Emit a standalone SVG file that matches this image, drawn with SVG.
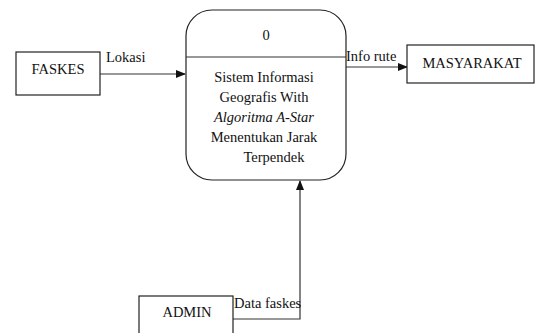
<svg xmlns="http://www.w3.org/2000/svg" width="540" height="333" viewBox="0 0 540 333">
<style>
text{font-family:"Liberation Serif","Times New Roman",serif;font-size:14.5px;fill:#111}
.box{fill:#fff;stroke:#222;stroke-width:1.2}
.ln{fill:none;stroke:#333;stroke-width:1.2}
</style>
<defs>
<marker id="ah" markerWidth="10" markerHeight="8" refX="9" refY="4" orient="auto" markerUnits="userSpaceOnUse">
<path d="M0,0 L10,4 L0,8 z" fill="#111"/>
</marker>
</defs>
<rect width="540" height="333" fill="#fff"/>
<g id="connectors">
<line class="ln" x1="100" y1="74" x2="185" y2="74" marker-end="url(#ah)"/>
<text x="106" y="62">Lokasi</text>
<line class="ln" x1="346" y1="67" x2="407" y2="67" marker-end="url(#ah)"/>
<text x="346" y="61">Info rute</text>
<polyline class="ln" points="233,319 300,319 300,181" marker-end="url(#ah)"/>
<text x="234" y="308">Data faskes</text>
</g>
<g id="faskes">
<rect class="box" x="16" y="52" width="84" height="43"/>
<text x="58" y="74" text-anchor="middle">FASKES</text>
</g>
<g id="process">
<rect class="box" x="186" y="10" width="160" height="170" rx="26" ry="26"/>
<line class="ln" x1="186" y1="57" x2="346" y2="57"/>
<text x="266" y="40" text-anchor="middle">0</text>
<text x="264" y="82" text-anchor="middle">Sistem Informasi</text>
<text x="264" y="102" text-anchor="middle">Geografis With</text>
<text x="264" y="122" text-anchor="middle" font-style="italic">Algoritma A-Star</text>
<text x="264" y="142" text-anchor="middle">Menentukan Jarak</text>
<text x="274" y="162" text-anchor="middle">Terpendek</text>
</g>
<g id="masyarakat">
<rect class="box" x="407" y="45" width="127" height="38"/>
<text x="472" y="68" text-anchor="middle">MASYARAKAT</text>
</g>
<g id="admin">
<rect class="box" x="139" y="296" width="94" height="45"/>
<text x="187" y="317" text-anchor="middle">ADMIN</text>
</g>
</svg>
